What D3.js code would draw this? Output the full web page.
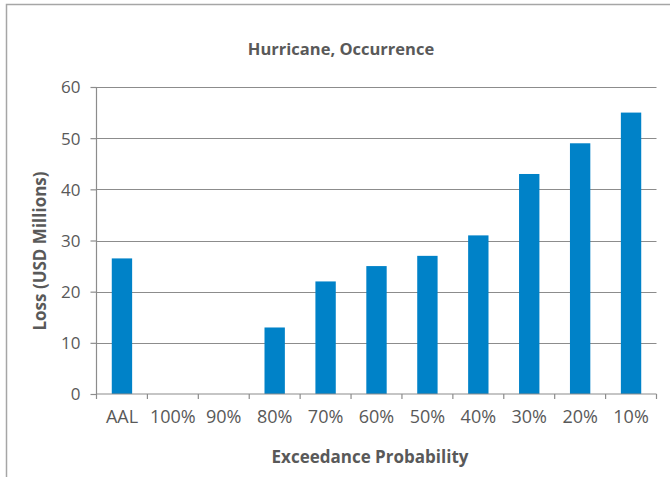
<!DOCTYPE html>
<html>
<head>
<meta charset="utf-8">
<script src="https://cdn.jsdelivr.net/npm/d3@7"></script>
<style>
  html, body { margin: 0; padding: 0; background: #fff; }
  text { font-family: "Open Sans", "Noto Sans", sans-serif; fill: #595959; }
</style>
</head>
<body>
<svg id="chart" width="670" height="477"></svg>
<script>
const categories = ["AAL", "100%", "90%", "80%", "70%", "60%", "50%", "40%", "30%", "20%", "10%"];
const losses = [26.5, 0, 0, 13, 22, 25, 27, 31, 43, 49, 55];
const yTicks = [0, 10, 20, 30, 40, 50, 60];
const chartTitle = "Hurricane, Occurrence";
const xTitle = "Exceedance Probability";
const yTitle = "Loss (USD Millions)";

const svg = d3.select("#chart");
const W = 670, H = 477;
const m = { left: 96.5, right: 13.5, top: 87, bottom: 83 };

// outer frame (top + left edges visible)
svg.append("path")
  .attr("d", `M6.5,${H} L6.5,4.5 L${W},4.5`)
  .attr("fill", "none").attr("stroke", "#a6a6a6").attr("stroke-width", 1.5);

const x = d3.scaleBand().domain(categories).range([m.left, W - m.right]).paddingInner(0.6).paddingOuter(0.3);
const xOuter = d3.scaleBand().domain(categories).range([m.left, W - m.right]);
const y = d3.scaleLinear().domain([0, 60]).range([H - m.bottom, m.top]);

// gridlines
svg.append("g").selectAll("line").data(yTicks.filter(d => d > 0)).join("line")
  .attr("x1", m.left).attr("x2", W - m.right)
  .attr("y1", d => Math.round(y(d)) + 0.5).attr("y2", d => Math.round(y(d)) + 0.5)
  .attr("stroke", "#8c8c8c").attr("stroke-width", 1.2);

// bars
svg.append("g").selectAll("rect").data(categories.map((c, i) => ({ c, v: losses[i] }))).join("rect")
  .attr("x", d => x(d.c)).attr("width", x.bandwidth())
  .attr("y", d => y(d.v)).attr("height", d => y(0) - y(d.v))
  .attr("fill", "#0082c8");

// y axis
const yAxis = svg.append("g").attr("transform", `translate(${m.left},0)`)
  .call(d3.axisLeft(y).tickValues(yTicks).tickSize(6).tickPadding(10));
yAxis.selectAll("line, path").attr("stroke", "#8c8c8c").attr("stroke-width", 1.2);
yAxis.select(".domain").attr("d", `M0,${y(0)}V${y(60)}`);
yAxis.selectAll("text").style("font-size", "17px").attr("fill", "#595959").attr("dy", "0.35em");

// x axis
const xAxis = svg.append("g").attr("transform", `translate(0,${y(0)})`)
  .call(d3.axisBottom(xOuter).tickSize(0).tickPadding(0));
xAxis.select(".domain").attr("d", `M${m.left},0H${W - m.right}`).attr("stroke", "#8c8c8c").attr("stroke-width", 1.2);
xAxis.selectAll(".tick text").style("font-size", "18px").attr("fill", "#595959").attr("y", 29).attr("dy", 0);
// tick marks at band boundaries
const bounds = categories.map(c => xOuter(c)).concat([W - m.right]);
xAxis.append("g").selectAll("line").data(bounds).join("line")
  .attr("x1", d => d).attr("x2", d => d).attr("y1", 0).attr("y2", 5)
  .attr("stroke", "#8c8c8c").attr("stroke-width", 1.2);

// titles
svg.append("text").attr("x", 341).attr("y", 55).attr("text-anchor", "middle")
  .style("font-size", "16.5px").style("font-weight", "bold").text(chartTitle);
svg.append("text").attr("x", 370).attr("y", 463).attr("text-anchor", "middle")
  .style("font-size", "17px").style("font-weight", "bold").text(xTitle);
svg.append("text").attr("transform", "translate(46,251) rotate(-90)").attr("text-anchor", "middle")
  .style("font-size", "17px").style("font-weight", "bold").text(yTitle);
</script>
</body>
</html>
